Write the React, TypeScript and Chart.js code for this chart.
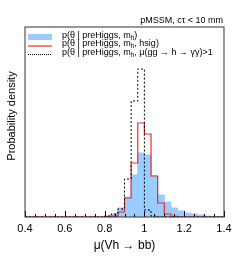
import React, { useEffect, useRef } from 'react';
import { Chart, registerables } from 'chart.js';
Chart.register(...registerables);

const FONT = '"Liberation Sans", Arial, Helvetica, sans-serif';

const binEdges = [0.4, 0.4333, 0.4667, 0.5, 0.5333, 0.5667, 0.6, 0.6333, 0.6667, 0.7, 0.7333, 0.7667, 0.8, 0.8333, 0.8667, 0.9, 0.9333, 0.9667, 1.0, 1.0333, 1.0667, 1.1, 1.1333, 1.1667, 1.2, 1.2333, 1.2667, 1.3, 1.3333, 1.3667, 1.4];

const blueValues = [0, 0, 0, 0, 0, 0, 0, 0, 0, 0, 0, 0, 1, 3, 9, 20, 42, 64, 62, 41, 22, 15, 9, 6, 4, 3, 2, 1, 0.5, 0.3];
const redValues = [0, 0, 0, 0, 0, 0, 0, 0, 0, 0, 0, 0, 0.5, 0.8, 5, 19, 54, 94, 83, 41, 14, 3, 0.7, 0, 0, 0, 0, 0, 0, 0];
const blackValues = [0, 0, 0, 0, 0, 0, 0, 0, 0, 0, 0, 0, 1, 3, 8, 38, 116, 148, 7, 1, 0, 0, 0, 0, 0, 0, 0, 0, 0, 0];

const xTickValues = [0.4, 0.6, 0.8, 1.0, 1.2, 1.4];
const xTickLabels = ['0.4', '0.6', '0.8', '1', '1.2', '1.4'];
const xMinorStep = 0.05;

const legendLabels = [
  'p(θ | preHiggs, m_h)',
  'p(θ | preHiggs, m_h, hsig)',
  'p(θ | preHiggs, m_h, μ(gg → h → γγ)>1',
];
const topLabel = 'pMSSM, cτ < 10 mm';
const yTitle = 'Probability density';
const xTitle = 'μ(Vh → bb)';

const BLUE = 'rgb(153,204,255)';
const RED = 'rgb(240,40,40)';
const BLACK = '#000';

function toPoints(vals: number[]) {
  return binEdges.map((x, i) => ({ x, y: vals[Math.min(i, vals.length - 1)] }));
}

function drawLabel(ctx: CanvasRenderingContext2D, label: string, x: number, y: number, size: number) {
  const parts = label.split('_h');
  let cx = x;
  parts.forEach((p, i) => {
    ctx.font = `${size}px ${FONT}`;
    ctx.fillText(p, cx, y);
    cx += ctx.measureText(p).width;
    if (i < parts.length - 1) {
      ctx.font = `${size * 0.7}px ${FONT}`;
      ctx.fillText('h', cx, y + 2.5);
      cx += ctx.measureText('h').width;
    }
  });
}

const decorPlugin = {
  id: 'decor',
  afterDatasetsDraw(chart: any) {
    const { ctx, chartArea } = chart;
    const xs = chart.scales.x;
    const { left, right, top, bottom } = chartArea;
    ctx.save();
    // ticks inside
    ctx.strokeStyle = '#000';
    ctx.lineWidth = 1;
    const n = Math.round((xs.max - xs.min) / xMinorStep);
    for (let i = 0; i <= n; i++) {
      const v = xs.min + i * xMinorStep;
      const px = Math.round(xs.getPixelForValue(v)) + 0.5;
      const len = i % 4 === 0 ? 6 : 3;
      ctx.beginPath();
      ctx.moveTo(px, bottom);
      ctx.lineTo(px, bottom - len);
      ctx.stroke();
    }
    // frame
    ctx.strokeStyle = '#333';
    ctx.lineWidth = 1;
    ctx.strokeRect(left, top, right - left, bottom - top);

    // legend
    const sx0 = left + 3;
    const sx1 = left + 27;
    const tx = left + 37;
    const rows = [35.5, 44, 52.5];
    ctx.fillStyle = BLUE;
    ctx.fillRect(sx0, 34, sx1 - sx0, 6);
    ctx.strokeStyle = RED;
    ctx.lineWidth = 1.2;
    ctx.beginPath();
    ctx.moveTo(sx0, 46);
    ctx.lineTo(sx1, 46);
    ctx.stroke();
    ctx.strokeStyle = BLACK;
    ctx.lineWidth = 1;
    ctx.setLineDash([1, 1]);
    ctx.beginPath();
    ctx.moveTo(sx0, 54.5);
    ctx.lineTo(sx1, 54.5);
    ctx.stroke();
    ctx.setLineDash([]);
    ctx.fillStyle = '#000';
    ctx.textBaseline = 'middle';
    ctx.textAlign = 'left';
    legendLabels.forEach((l, i) => drawLabel(ctx, l, tx, rows[i], 9));

    // top label
    ctx.font = `9px ${FONT}`;
    ctx.textAlign = 'right';
    ctx.textBaseline = 'alphabetic';
    ctx.fillText(topLabel, right - 1, 23);

    // y title
    ctx.translate(12, 116);
    ctx.rotate(-Math.PI / 2);
    ctx.font = `11px ${FONT}`;
    ctx.textAlign = 'center';
    ctx.textBaseline = 'middle';
    ctx.fillText(yTitle, 0, 0);
    ctx.restore();
  },
};

export default function App() {
  const ref = useRef<HTMLCanvasElement>(null);
  useEffect(() => {
    document.body.style.margin = '0';
    const canvas = ref.current!;
    const chart = new Chart(canvas, {
      type: 'line',
      data: {
        datasets: [
          {
            label: legendLabels[0],
            data: toPoints(blueValues),
            stepped: 'before',
            fill: 'origin',
            backgroundColor: BLUE,
            borderColor: BLUE,
            borderWidth: 1,
            pointRadius: 0,
            order: 3,
          },
          {
            label: legendLabels[1],
            data: toPoints(redValues),
            stepped: 'before',
            fill: false,
            borderColor: RED,
            borderWidth: 1.2,
            pointRadius: 0,
            order: 2,
          },
          {
            label: legendLabels[2],
            data: toPoints(blackValues),
            stepped: 'before',
            fill: false,
            borderColor: BLACK,
            borderWidth: 1,
            borderDash: [2, 2],
            pointRadius: 0,
            order: 1,
          },
        ],
      } as any,
      options: {
        responsive: false,
        animation: false,
        layout: { padding: { left: 25, right: 25, top: 27, bottom: 0 } },
        plugins: {
          legend: { display: false },
          title: { display: false },
          tooltip: { enabled: false },
        },
        scales: {
          x: {
            type: 'linear',
            min: 0.4,
            max: 1.4,
            afterBuildTicks: (s: any) => {
              s.ticks = xTickValues.map((v) => ({ value: v }));
            },
            afterFit: (s: any) => {
              s.height = 40;
            },
            grid: { display: false, drawTicks: false },
            border: { display: false },
            ticks: {
              padding: 5,
              maxRotation: 0,
              autoSkip: false,
              color: '#000',
              font: { family: FONT, size: 11 },
              callback: (_v: any, i: number) => xTickLabels[i],
            },
            title: {
              display: true,
              text: xTitle,
              color: '#000',
              font: { family: FONT, size: 12 },
              padding: { top: 0, bottom: 4 },
            },
          },
          y: { display: false, min: 0, max: 190 },
        },
      } as any,
      plugins: [decorPlugin],
    });
    return () => chart.destroy();
  }, []);
  return (
    <div style={{ width: 249, height: 257, overflow: 'hidden' }}>
      <canvas ref={ref} width={249} height={257} style={{ display: 'block' }} />
    </div>
  );
}
